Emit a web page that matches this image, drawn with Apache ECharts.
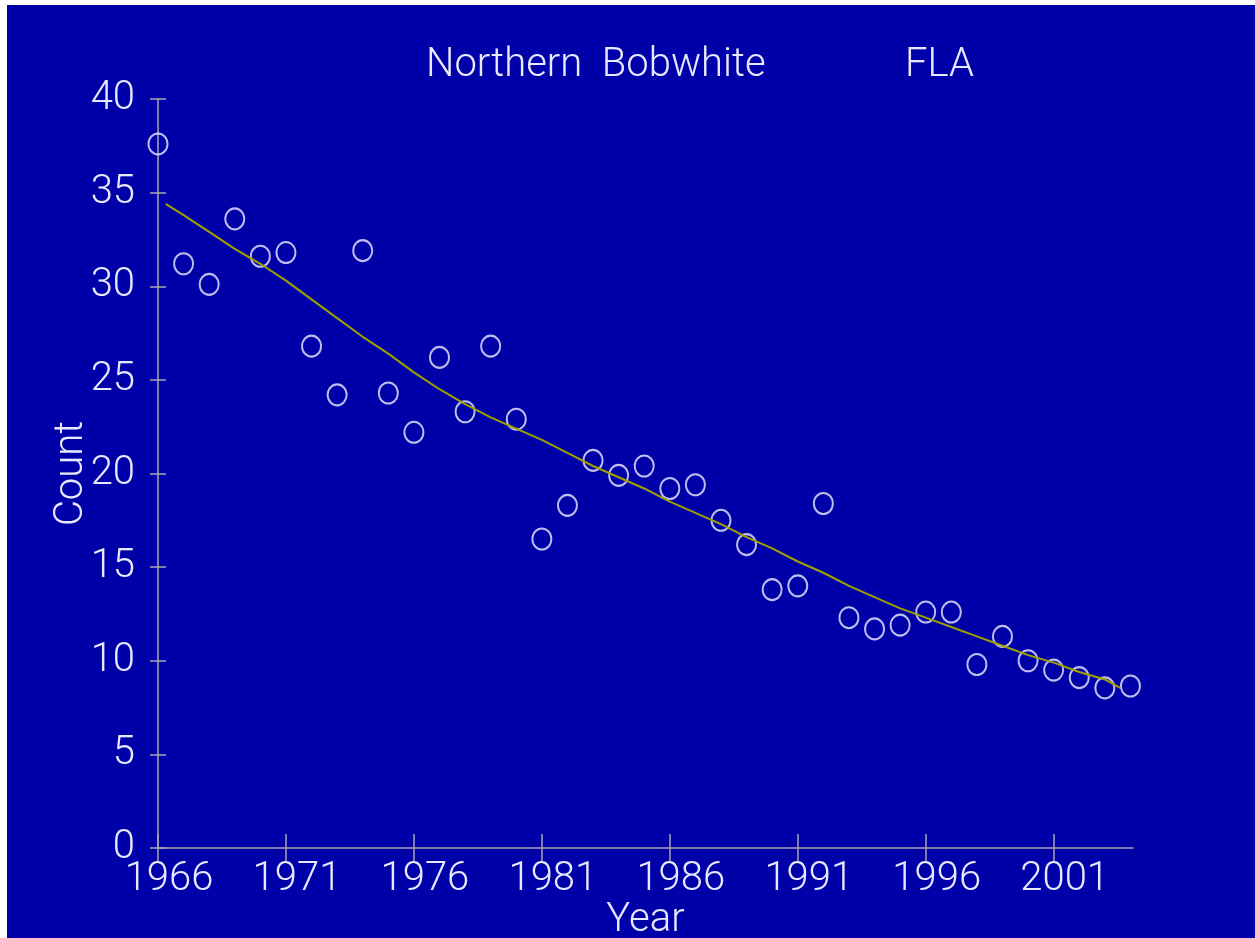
<!DOCTYPE html>
<html>
<head>
<meta charset="utf-8">
<script src="https://cdn.jsdelivr.net/npm/echarts@6/dist/echarts.min.js"></script>
<style>
html, body { margin: 0; padding: 0; background: #0000a8; overflow: hidden; }
#topEdge { position: absolute; left: 0; top: 0; width: 1255px; height: 5px; background: #ffffff; }
#leftEdge { position: absolute; left: 0; top: 0; width: 7px; height: 938px; background: #ffffff; }
#main { position: absolute; left: 7px; top: 5px; width: 1248px; height: 933px; background: #0000a8; }
</style>
</head>
<body>
<div id="topEdge"></div>
<div id="leftEdge"></div>
<div id="main"></div>
<script>
// 数据
var years = [1966, 1967, 1968, 1969, 1970, 1971, 1972, 1973, 1974, 1975, 1976, 1977, 1978, 1979,
	1980, 1981, 1982, 1983, 1984, 1985, 1986, 1987, 1988, 1989, 1990, 1991, 1992, 1993,
	1994, 1995, 1996, 1997, 1998, 1999, 2000, 2001, 2002, 2003, 2004];
var counts = [37.6, 31.2, 30.1, 33.6, 31.6, 31.8, 26.8, 24.2, 31.9, 24.3, 22.2, 26.2, 23.3, 26.8,
	22.9, 16.5, 18.3, 20.7, 19.9, 20.4, 19.2, 19.4, 17.5, 16.2, 13.8, 14.0, 18.4, 12.3,
	11.7, 11.9, 12.6, 12.6, 9.8, 11.3, 10.0, 9.5, 9.1, 8.55, 8.65];

// 趋势线
var trendYears = [1966.3, 1967, 1968, 1969, 1970, 1971, 1972, 1973, 1974, 1975, 1976, 1977, 1978,
	1979, 1980, 1981, 1982, 1983, 1984, 1985, 1986, 1987, 1988, 1989, 1990, 1991, 1992,
	1993, 1994, 1995, 1996, 1997, 1998, 1999, 2000, 2001, 2002, 2003, 2003.6];
var trend = [34.4, 33.8, 32.9, 32.0, 31.2, 30.3, 29.3, 28.3, 27.3, 26.4, 25.4, 24.5, 23.7,
	23.0, 22.4, 21.8, 21.1, 20.4, 19.8, 19.2, 18.5, 17.9, 17.3, 16.6, 16.0, 15.3, 14.7,
	14.0, 13.4, 12.8, 12.3, 11.8, 11.3, 10.8, 10.3, 9.9, 9.4, 9.0, 8.55];

var xTicks = [1966, 1971, 1976, 1981, 1986, 1991, 1996, 2001];
var yTicks = [0, 5, 10, 15, 20, 25, 30, 35, 40];

var baseYear = 1966;
var textColor = '#e8e8ff';
var axisColor = '#a8a8a8';
var fontName = 'Roboto';

var myChart = echarts.init(document.getElementById('main'));

var xOffsets = xTicks.map(function (y) { return y - baseYear; });

function xAxisDef(inside, main) {
	return {
		type: 'value', min: 0, max: 38.1, position: 'bottom',
		name: main ? 'Year' : '', nameLocation: 'middle', nameGap: 53, nameMoveOverlap: false,
		nameTextStyle: {color: textColor, fontSize: 40, fontFamily: fontName, fontWeight: 300},
		splitLine: {show: false},
		axisLine: {show: main, onZero: false, lineStyle: {color: axisColor, width: 1.5}},
		axisTick: {show: true, inside: inside, length: 14, customValues: xOffsets,
			lineStyle: {color: axisColor, width: 1.5}},
		axisLabel: {show: main, customValues: xOffsets, margin: 12, color: textColor,
			fontSize: 40, fontFamily: fontName, fontWeight: 300, padding: [0, 0, 0, 22],
			formatter: function (v) { return String(v + baseYear); }}
	};
}

function yAxisDef(inside, main) {
	return {
		type: 'value', min: 0, max: 40, position: 'left',
		name: main ? 'Count' : '', nameLocation: 'middle', nameGap: 66, nameMoveOverlap: false,
		nameTextStyle: {color: textColor, fontSize: 40, fontFamily: fontName, fontWeight: 300},
		splitLine: {show: false},
		axisLine: {show: main, onZero: false, lineStyle: {color: axisColor, width: 1.5}},
		axisTick: {show: true, inside: inside, length: 8, customValues: yTicks,
			lineStyle: {color: axisColor, width: 1.5}},
		axisLabel: {show: main, customValues: yTicks, margin: 23, color: textColor,
			fontSize: 40, fontFamily: fontName, fontWeight: 300}
	};
}

var option = {
	backgroundColor: '#0000a8',
	animation: false,
	title: [
		{text: 'Northern  Bobwhite', left: 414, top: 36,
			textStyle: {color: textColor, fontSize: 40, fontFamily: fontName, fontWeight: 300}},
		{text: 'FLA', left: 893, top: 36,
			textStyle: {color: textColor, fontSize: 40, fontFamily: fontName, fontWeight: 300}}
	],
	grid: {left: 151, top: 94, right: 122, bottom: 90, outerBoundsMode: 'none', containLabel: false},
	xAxis: [xAxisDef(false, true), xAxisDef(true, false)],
	yAxis: [yAxisDef(false, true), yAxisDef(true, false)],
	series: [
		{
			name: 'trend', type: 'line', xAxisIndex: 0, yAxisIndex: 0,
			data: trendYears.map(function (y, i) { return [y - baseYear, trend[i]]; }),
			showSymbol: false, smooth: false,
			lineStyle: {color: '#a0a000', width: 2}
		},
		{
			name: 'count', type: 'scatter', xAxisIndex: 0, yAxisIndex: 0,
			data: years.map(function (y, i) { return [y - baseYear, counts[i]]; }),
			symbol: 'circle', symbolSize: [19, 21],
			itemStyle: {color: 'rgba(0,0,0,0)', borderColor: '#eeeeff', borderWidth: 2}
		}
	]
};
myChart.setOption(option);
</script>
</body>
</html>
